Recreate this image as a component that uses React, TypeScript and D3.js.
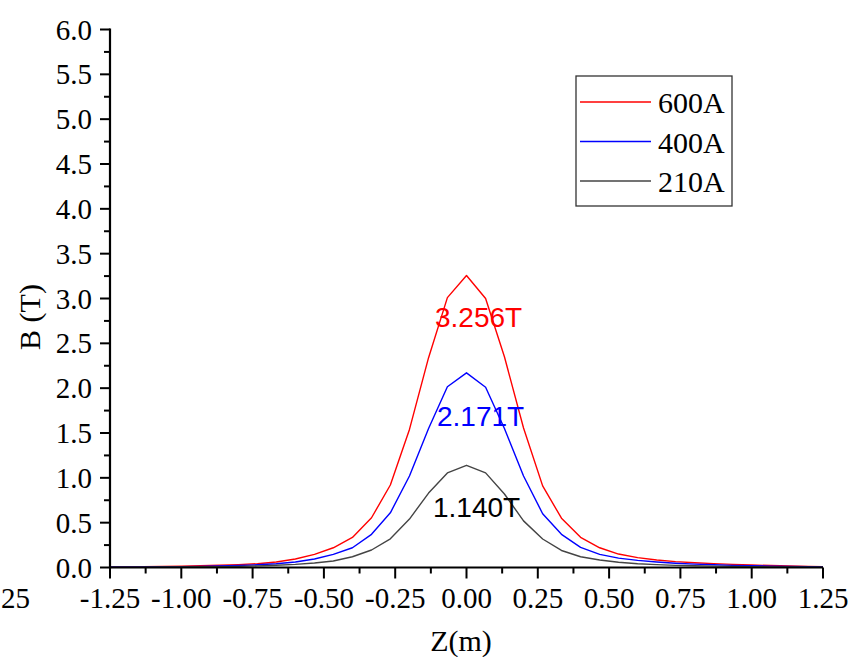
import React from "react";
import * as d3 from "d3";

const zValues = [
  -1.25, -1.2, -1.133, -1.067, -1.0, -0.933, -0.867, -0.8, -0.733, -0.667,
  -0.6, -0.533, -0.467, -0.4, -0.333, -0.267, -0.2, -0.133, -0.067, 0,
  0.067, 0.133, 0.2, 0.267, 0.333, 0.4, 0.467, 0.533, 0.6, 0.667,
  0.733, 0.8, 0.867, 0.933, 1.0, 1.067, 1.133, 1.2, 1.25,
];

const b600 = [
  0.007, 0.008, 0.01, 0.012, 0.015, 0.02, 0.025, 0.032, 0.042, 0.061,
  0.095, 0.147, 0.22, 0.335, 0.555, 0.92, 1.54, 2.34, 3.01, 3.256,
  3.0, 2.35, 1.556, 0.91, 0.55, 0.337, 0.22, 0.15, 0.11, 0.084,
  0.066, 0.053, 0.043, 0.035, 0.028, 0.022, 0.016, 0.011, 0.008,
];

const b400 = [
  0.005, 0.005, 0.006, 0.008, 0.01, 0.012, 0.016, 0.022, 0.03, 0.042,
  0.062, 0.095, 0.147, 0.22, 0.37, 0.61, 1.02, 1.55, 2.016, 2.171,
  2.01, 1.55, 1.02, 0.6, 0.37, 0.225, 0.147, 0.105, 0.08, 0.062,
  0.048, 0.038, 0.03, 0.024, 0.019, 0.015, 0.011, 0.008, 0.006,
];

const b210 = [
  0.003, 0.004, 0.004, 0.005, 0.006, 0.008, 0.01, 0.013, 0.018, 0.025,
  0.035, 0.05, 0.072, 0.12, 0.195, 0.32, 0.54, 0.83, 1.055, 1.14,
  1.055, 0.82, 0.52, 0.318, 0.19, 0.12, 0.084, 0.058, 0.042, 0.032,
  0.024, 0.019, 0.015, 0.012, 0.009, 0.007, 0.005, 0.004, 0.003,
];

const seriesNames = ["600A", "400A", "210A"];
const seriesColors = ["#ff0000", "#0000ff", "#444444"];
const peakLabels = ["3.256T", "2.171T", "1.140T"];

const xTicks = [-1.25, -1.0, -0.75, -0.5, -0.25, 0, 0.25, 0.5, 0.75, 1.0, 1.25];
const yTicks = [0, 0.5, 1.0, 1.5, 2.0, 2.5, 3.0, 3.5, 4.0, 4.5, 5.0, 5.5, 6.0];

const W = 854;
const H = 657;
const serif = "'Liberation Serif', 'Times New Roman', serif";
const sans = "'Liberation Sans', Arial, sans-serif";

export default function App() {
  const x = d3.scaleLinear().domain([-1.25, 1.25]).range([110, 823]);
  const y = d3.scaleLinear().domain([0, 6]).range([567.5, 29.5]);
  const allSeries = [b600, b400, b210];
  const line = d3
    .line<number>()
    .x((_, i) => x(zValues[i]))
    .y((d) => y(d));

  const xMinor = xTicks.slice(0, -1).map((t) => t + 0.125);
  const yMinor = yTicks.slice(0, -1).map((t) => t + 0.25);
  const y0 = y(0);
  const x0 = x(-1.25);

  const labelPos = [
    { x: 435, y: 327 },
    { x: 437, y: 426 },
    { x: 433, y: 517 },
  ];

  return (
    <svg
      width={W}
      height={H}
      style={{ position: "absolute", left: 0, top: 0, background: "#fff" }}
    >
      <rect x={0} y={0} width={W} height={H} fill="#fff" />
      {allSeries.map((s, i) => (
        <path
          key={i}
          d={line(s) || ""}
          fill="none"
          stroke={seriesColors[i]}
          strokeWidth={1.4}
          strokeLinejoin="round"
        />
      ))}
      {peakLabels.map((t, i) => (
        <text
          key={t}
          x={labelPos[i].x}
          y={labelPos[i].y}
          fill={i === 2 ? "#000" : seriesColors[i]}
          fontFamily={sans}
          fontSize={28}
        >
          {t}
        </text>
      ))}
      <line x1={x0} x2={x(1.25)} y1={y0} y2={y0} stroke="#000" strokeWidth={2.2} />
      <line x1={x0} x2={x0} y1={y(6) - 1} y2={y0 + 1} stroke="#000" strokeWidth={2.2} />
      {xTicks.map((t) => (
        <g key={"xt" + t}>
          <line x1={x(t)} x2={x(t)} y1={y0} y2={y0 + 11} stroke="#000" strokeWidth={2} />
          <text
            x={x(t)}
            y={608}
            textAnchor="middle"
            fontFamily={serif}
            fontSize={29}
            fill="#000"
          >
            {t.toFixed(2)}
          </text>
        </g>
      ))}
      {xMinor.map((t) => (
        <line key={"xm" + t} x1={x(t)} x2={x(t)} y1={y0} y2={y0 + 6} stroke="#000" strokeWidth={2} />
      ))}
      {yTicks.map((t) => (
        <g key={"yt" + t}>
          <line x1={x0 - 10} x2={x0} y1={y(t)} y2={y(t)} stroke="#000" strokeWidth={2} />
          <text
            x={92}
            y={y(t) + 10}
            textAnchor="end"
            fontFamily={serif}
            fontSize={29}
            fill="#000"
          >
            {t.toFixed(1)}
          </text>
        </g>
      ))}
      {yMinor.map((t) => (
        <line key={"ym" + t} x1={x0 - 6} x2={x0} y1={y(t)} y2={y(t)} stroke="#000" strokeWidth={2} />
      ))}
      <text x={1} y={608} textAnchor="start" fontFamily={serif} fontSize={29} fill="#000">
        25
      </text>
      <text x={461} y={651} textAnchor="middle" fontFamily={serif} fontSize={30} fill="#000">
        Z(m)
      </text>
      <text
        transform="translate(40,317) rotate(-90)"
        textAnchor="middle"
        fontFamily={serif}
        fontSize={30}
        fill="#000"
      >
        B (T)
      </text>
      <rect x={576} y={76} width={156} height={130} fill="#fff" stroke="#333" strokeWidth={1.3} />
      {seriesNames.map((n, i) => {
        const ly = 102 + i * 39.5;
        return (
          <g key={n}>
            <line x1={580} x2={651} y1={ly} y2={ly} stroke={seriesColors[i]} strokeWidth={1.4} />
            <text x={658} y={ly + 11} fontFamily={serif} fontSize={30} fill="#000">
              {n}
            </text>
          </g>
        );
      })}
    </svg>
  );
}
